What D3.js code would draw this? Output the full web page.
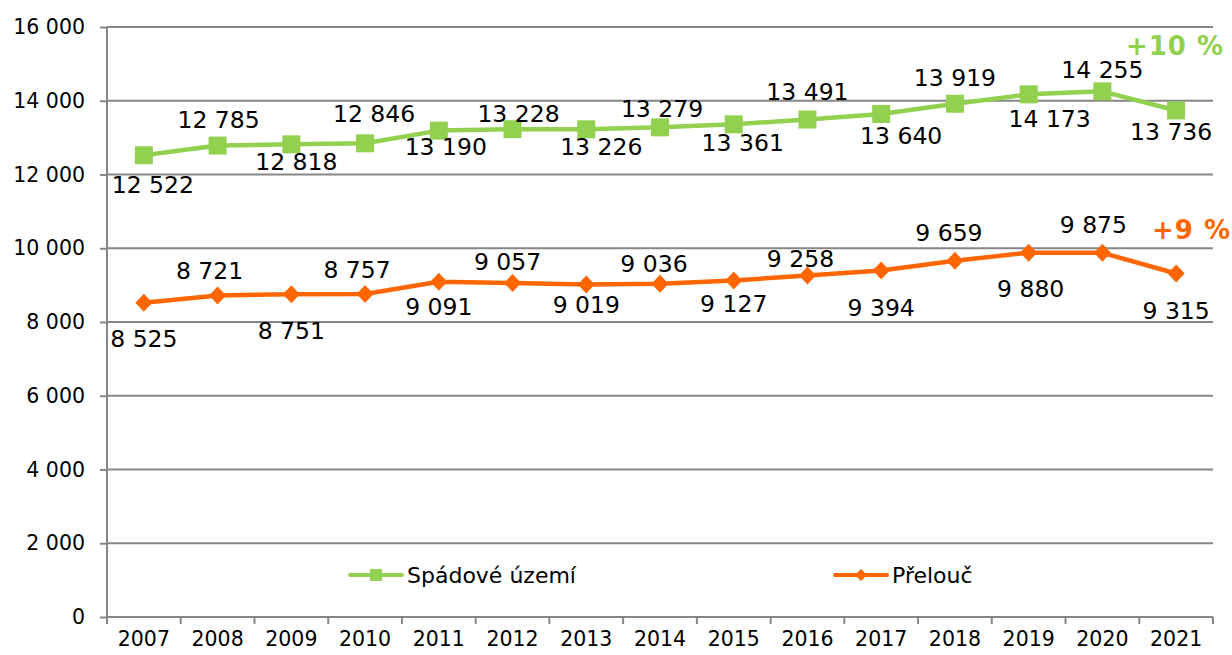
<!DOCTYPE html>
<html>
<head>
<meta charset="utf-8">
<script src="https://cdn.jsdelivr.net/npm/d3@7"></script>
<style>
  body { margin: 0; background: #fff; }
  svg, svg text { font-family: "DejaVu Sans", Verdana, sans-serif; }
</style>
</head>
<body>
<svg id="chart"></svg>
<script>
const years = [2007, 2008, 2009, 2010, 2011, 2012, 2013, 2014, 2015, 2016, 2017, 2018, 2019, 2020, 2021];
const spadove = [12522, 12785, 12818, 12846, 13190, 13228, 13226, 13279, 13361, 13491, 13640, 13919, 14173, 14255, 13736];
const prelouc = [8525, 8721, 8751, 8757, 9091, 9057, 9019, 9036, 9127, 9258, 9394, 9659, 9880, 9875, 9315];
const yTicks = [0, 2000, 4000, 6000, 8000, 10000, 12000, 14000, 16000];

// posun popisků dat (px) - jako v původním grafu
const spadoveDx = [9, 1, 5, 9, 7, 6, 15, 2, 9, 0, 20, 0, 21, 0, -5];
const spadoveDy = [30, -26, 18, -29, 16, -15, 18, -18, 19, -28, 22, -26, 25, -21, 22];
const preloucDx = [0, -8, 0, -8, 0, -5, 0, -6, 0, -7, 0, -6, 2, -9, 0];
const preloucDy = [36, -24, 37, -24, 25, -21, 21, -20, 24, -17, 37, -28, 36, -28, 37];

const width = 1232, height = 655;
const margin = { top: 27, right: 19, bottom: 38, left: 107 };
const innerW = width - margin.left - margin.right;
const innerH = height - margin.top - margin.bottom;

const locale = d3.formatLocale({ decimal: ",", thousands: " ", grouping: [3], currency: ["", " Kč"] });
const fmt = locale.format(",d");

const svg = d3.select("#chart").attr("width", width).attr("height", height);
const g = svg.append("g").attr("transform", `translate(${margin.left},${margin.top})`);

const x = d3.scaleBand().domain(years).range([0, innerW]).padding(0);
const y = d3.scaleLinear().domain([0, 16000]).range([innerH, 0]);
const cx = d => x(d) + x.bandwidth() / 2;

// mřížka
g.append("g").selectAll("line").data(yTicks).enter().append("line")
    .attr("x1", 0).attr("x2", innerW)
    .attr("y1", d => y(d)).attr("y2", d => y(d))
    .attr("stroke", "#868686").attr("stroke-width", 2);

// osa y
const yAxis = g.append("g")
    .call(d3.axisLeft(y).tickValues(yTicks).tickFormat(fmt).tickSize(7).tickPadding(15));
yAxis.attr("font-family", null).attr("font-size", null);
yAxis.select(".domain").remove();
yAxis.selectAll(".tick line").attr("stroke", "#868686").attr("stroke-width", 2);
yAxis.selectAll(".tick text").attr("font-size", 20.5).attr("fill", "#000");

g.append("line").attr("x1", 0).attr("x2", 0).attr("y1", 0).attr("y2", innerH)
    .attr("stroke", "#868686").attr("stroke-width", 2);

// osa x
const xAxis = g.append("g").attr("transform", `translate(0,${innerH})`)
    .call(d3.axisBottom(x).tickSize(0).tickPadding(14));
xAxis.attr("font-family", null).attr("font-size", null);
xAxis.select(".domain").remove();
xAxis.selectAll(".tick text").attr("font-size", 20.5).attr("fill", "#000");

const edges = years.map(d => x(d)).concat([innerW]);
g.append("g").selectAll("line").data(edges).enter().append("line")
    .attr("x1", d => d).attr("x2", d => d)
    .attr("y1", innerH).attr("y2", innerH + 7)
    .attr("stroke", "#868686").attr("stroke-width", 2);

const line = d3.line().x((d, i) => cx(years[i])).y(d => y(d));

function drawSeries(values, color, shape, dx, dy) {
    g.append("path").datum(values)
        .attr("d", line).attr("fill", "none")
        .attr("stroke", color).attr("stroke-width", 4.5).attr("stroke-linejoin", "round");

    g.append("g").selectAll("path").data(values).enter().append("path")
        .attr("transform", (d, i) => `translate(${cx(years[i])},${y(d)})`)
        .attr("d", shape)
        .attr("fill", color);

    g.append("g").selectAll("text").data(values).enter().append("text")
        .attr("x", (d, i) => cx(years[i]) + dx[i])
        .attr("y", (d, i) => y(d) + dy[i])
        .attr("text-anchor", "middle")
        .attr("dominant-baseline", "central")
        .attr("font-size", 23.5)
        .attr("fill", "#000")
        .text(d => fmt(d));
}

const square = d3.symbol().type(d3.symbolSquare).size(18 * 18)();
const diamond = "M0,-9L8.5,0L0,9L-8.5,0Z";

drawSeries(spadove, "#92D050", square, spadoveDx, spadoveDy);
drawSeries(prelouc, "#FF6600", diamond, preloucDx, preloucDy);

// přírůstky
svg.append("text").attr("x", 1224).attr("y", 46).attr("text-anchor", "end")
    .attr("dominant-baseline", "central").attr("font-size", 26).attr("font-weight", "bold")
    .attr("letter-spacing", 1)
    .attr("fill", "#92D050").text("+10 %");
svg.append("text").attr("x", 1231).attr("y", 230).attr("text-anchor", "end")
    .attr("dominant-baseline", "central").attr("font-size", 26).attr("font-weight", "bold")
    .attr("letter-spacing", 1)
    .attr("fill", "#FF6600").text("+9 %");

// legenda
const legend = [
    { name: "Spádové území", color: "#92D050", shape: d3.symbol().type(d3.symbolSquare).size(12 * 12)(), x: 350 },
    { name: "Přelouč", color: "#FF6600", shape: "M0,-6L6,0L0,6L-6,0Z", x: 835 }
];
const lg = svg.append("g").selectAll("g").data(legend).enter().append("g")
    .attr("transform", d => `translate(${d.x},575)`);
lg.append("line").attr("x1", 0).attr("x2", 52).attr("y1", 0).attr("y2", 0)
    .attr("stroke", d => d.color).attr("stroke-width", 4).attr("stroke-linecap", "round");
lg.append("path").attr("transform", "translate(26,0)").attr("d", d => d.shape).attr("fill", d => d.color);
lg.append("text").attr("x", 57).attr("y", 0).attr("dominant-baseline", "central")
    .attr("font-size", 22).attr("fill", "#000").text(d => d.name);
</script>
</body>
</html>
